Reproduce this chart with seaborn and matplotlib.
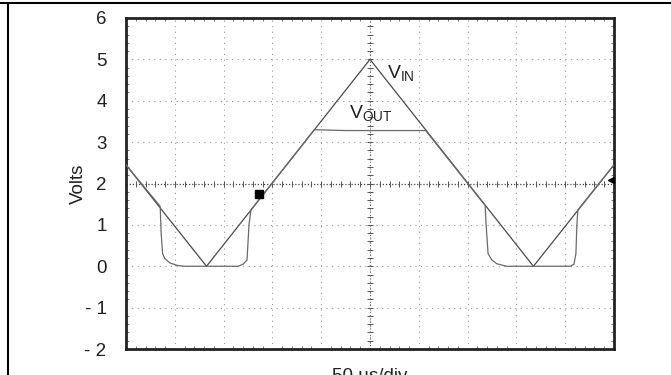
import matplotlib.pyplot as plt
import numpy as np
import seaborn as sns
from matplotlib.lines import Line2D

# time axis in divisions (50 us/div), voltages in volts
vin_t = [0.0, 1.65, 5.0, 8.35, 10.0]
vin_v = [2.45, 0.0, 5.0, 0.0, 2.45]

vout_t = [0.0, 0.70, 0.72, 0.75, 0.80, 0.90, 1.05, 1.20, 2.30, 2.40, 2.48, 2.52,
          2.56, 3.86, 4.50, 5.50, 6.14, 7.36, 7.38, 7.42, 7.50, 7.60, 7.80, 9.10,
          9.18, 9.22, 9.24, 9.26, 10.0]
vout_v = [2.45, 1.45, 0.80, 0.30, 0.18, 0.08, 0.02, 0.0, 0.0, 0.05, 0.15, 1.0,
          1.36, 3.30, 3.28, 3.28, 3.28, 1.47, 1.0, 0.30, 0.15, 0.06, 0.0, 0.0,
          0.05, 0.30, 1.0, 1.36, 2.45]

cursor_t = [2.73]
cursor_v = [1.74]
trigger_level = 2.08

y_ticks = [-2, -1, 0, 1, 2, 3, 4, 5, 6]
y_labels = ["- 2", "- 1", "0", "1", "2", "3", "4", "5", "6"]

sns.set_style("white")
plt.rcParams["font.family"] = ["Liberation Sans", "DejaVu Sans"]

fig = plt.figure(figsize=(6.71, 3.75), dpi=100)
ax = fig.add_axes([0.1878, 0.0693, 0.7272, 0.8827])

# graticule
for gx in range(1, 10):
    ax.axvline(gx, color="#9a9a9a", lw=0.8, ls=(0, (1, 4)), zorder=1)
for gy in range(-1, 6):
    if gy == 2:
        continue
    ax.axhline(gy, color="#9a9a9a", lw=0.8, ls=(0, (1, 4)), zorder=1)

# centre cross with fine ticks
ax.axhline(2, color="#444444", lw=0.9, ls=(0, (1, 1.5)), zorder=1)
ax.axvline(5, color="#666666", lw=0.8, ls=(0, (1, 2)), zorder=1)
fine = np.arange(0.2, 10, 0.2)
ax.plot(fine, np.full_like(fine, 2.0), ls="none", marker="|", ms=4,
        mew=0.7, color="#555555", zorder=1)
fine_y = np.arange(-1.8, 6, 0.2)
ax.plot(np.full_like(fine_y, 5.0), fine_y, ls="none", marker="_", ms=4,
        mew=0.7, color="#555555", zorder=1)

sns.lineplot(x=vin_t, y=vin_v, sort=False, estimator=None, color="#4a4a4a",
             lw=0.9, ax=ax, zorder=3)
sns.lineplot(x=vout_t, y=vout_v, sort=False, estimator=None, color="#6a6a6a",
             lw=0.9, ax=ax, zorder=3)

ax.plot(cursor_t, cursor_v, marker="s", ms=6, color="black", ls="none", zorder=4)
ax.plot([9.93], [trigger_level], marker="<", ms=5, color="black", ls="none",
        zorder=4, clip_on=False)

ax.text(5.35, 4.55, r"$\mathregular{V_{IN}}$", fontsize=14, color="#222222")
ax.text(4.57, 3.58, r"$\mathregular{V_{OUT}}$", fontsize=14, color="#222222")

ax.set_xlim(0, 10)
ax.set_ylim(-2, 6)
ax.set_xticks(np.arange(0, 10.01, 1))
ax.set_xticklabels([])
ax.set_xticks(np.arange(0, 10.01, 0.2), minor=True)
ax.set_yticks(y_ticks)
ax.set_yticklabels(y_labels, fontsize=13.5, color="#222222")
ax.set_yticks(np.arange(-2, 6.01, 0.2), minor=True)
ax.tick_params(axis="y", which="major", length=0, pad=14)
ax.tick_params(axis="x", which="major", length=0, pad=0)
ax.tick_params(which="minor", direction="in", length=2.5, width=0.6,
               color="#666666", top=True, right=True, bottom=True, left=True)
ax.set_ylabel("Volts", fontsize=13.5, color="#222222")
ax.yaxis.set_label_coords(-0.08, 0.5)
ax.set_xlabel("50 µs/div", fontsize=13.5, color="#222222", labelpad=10)

for sp in ax.spines.values():
    sp.set_visible(True)
    sp.set_color("#222222")
    sp.set_linewidth(2.0)

# outer frame of the original figure box
fig.add_artist(Line2D([0, 1], [0.992, 0.992], color="black", lw=1.5))
fig.add_artist(Line2D([0.0119, 0.0119], [0, 0.992], color="black", lw=1.5))

fig.savefig("out.png", dpi=100)
